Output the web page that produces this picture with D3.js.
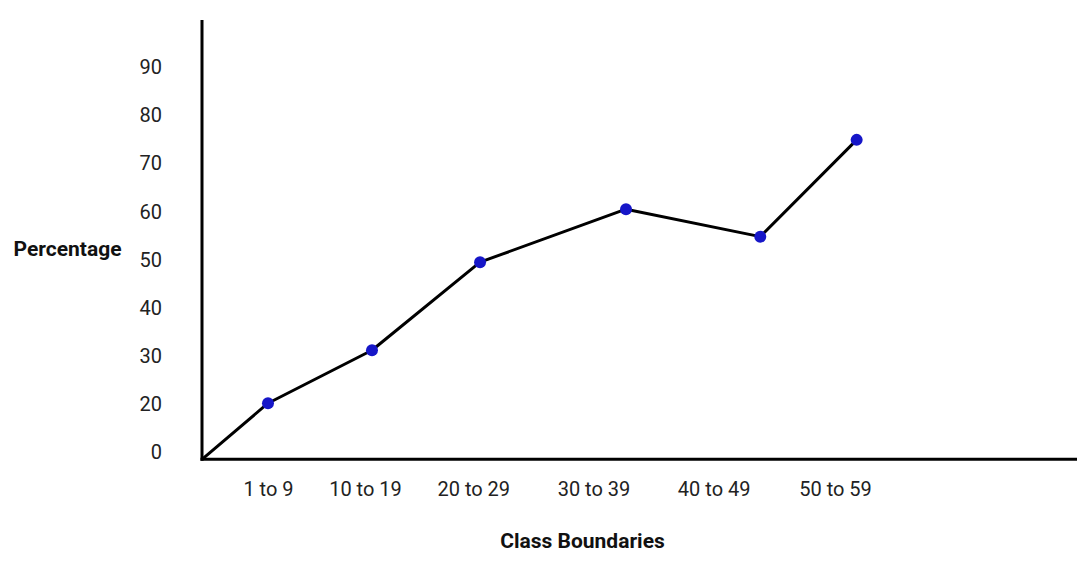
<!DOCTYPE html>
<html>
<head>
<meta charset="utf-8">
<script src="https://cdn.jsdelivr.net/npm/d3@7"></script>
<style>
  html, body { margin: 0; padding: 0; background: #fff; }
  svg { display: block; font-family: Roboto, "Noto Sans", sans-serif; }
</style>
</head>
<body>
<svg id="chart" width="1088" height="564"></svg>
<script>
// ---- data ----
const categories = ["1 to 9", "10 to 19", "20 to 29", "30 to 39", "40 to 49", "50 to 59"];
// where each category label sits along the x axis (in class units, hand-placed in the original)
const labelPos = [1.0, 1.855, 2.81, 3.87, 4.93, 6.0];
// where each plotted point sits along the x axis (class units)
const pointX = [1.0, 1.917, 2.87, 4.157, 5.341, 6.191];
// percentage values
const values = [20.1, 31.1, 49.4, 60.4, 54.7, 74.8];
// y tick slots and their printed labels
const yTickValues = [10, 20, 30, 40, 50, 60, 70, 80, 90];
const yTickLabels = ["0", "20", "30", "40", "50", "60", "70", "80", "90"];
const xTitle = "Class Boundaries";
const yTitle = "Percentage";

// ---- layout ----
const svg = d3.select("#chart");
const axisX0 = 202, axisX1 = 1077, axisY0 = 459.3, axisY1 = 20;

const x = d3.scaleLinear().domain([0.418, 8.134]).range([axisX0, axisX1]);
const y = d3.scaleLinear().domain([8.45, 99.7]).range([axisY0, axisY1]);

// y axis tick labels (no tick marks)
const yAxis = d3.axisLeft(y).tickValues(yTickValues)
  .tickFormat((d, i) => yTickLabels[i]).tickSize(0).tickPadding(0);
const gy = svg.append("g").attr("transform", `translate(${162},0)`).call(yAxis);
gy.select(".domain").remove();
gy.selectAll("text").attr("font-size", 20).attr("fill", "#222")
  .attr("font-family", "Roboto").attr("dy", "0.35em").attr("x", 0);

// x axis category labels (no tick marks)
const xAxis = d3.axisBottom(x).tickValues(labelPos)
  .tickFormat((d, i) => categories[i]).tickSize(0).tickPadding(0);
const gx = svg.append("g").attr("transform", `translate(0,${496})`).call(xAxis);
gx.select(".domain").remove();
gx.selectAll("text").attr("font-size", 20).attr("fill", "#222")
  .attr("font-family", "Roboto").attr("dy", 0).attr("y", 0);

// axis lines
svg.append("line")
  .attr("x1", x(x.domain()[0])).attr("x2", x(x.domain()[0]))
  .attr("y1", y(y.domain()[0]) + 1.5).attr("y2", y(y.domain()[1]))
  .attr("stroke", "#000").attr("stroke-width", 3);
svg.append("line")
  .attr("x1", x(x.domain()[0]) - 1.5).attr("x2", x(x.domain()[1]))
  .attr("y1", y(y.domain()[0])).attr("y2", y(y.domain()[0]))
  .attr("stroke", "#000").attr("stroke-width", 3);

// data line starting at the origin
const pts = [[x.domain()[0], y.domain()[0]]].concat(pointX.map((px, i) => [px, values[i]]));
const line = d3.line().x(d => x(d[0])).y(d => y(d[1]));
svg.append("path").datum(pts)
  .attr("d", line).attr("fill", "none")
  .attr("stroke", "#000").attr("stroke-width", 3).attr("stroke-linejoin", "round");

// points
svg.selectAll("circle.pt").data(values).enter().append("circle")
  .attr("class", "pt")
  .attr("cx", (d, i) => x(pointX[i]))
  .attr("cy", d => y(d))
  .attr("r", 6)
  .attr("fill", "#1616c8");

// titles
svg.append("text").text(yTitle)
  .attr("x", 67.5).attr("y", 256).attr("text-anchor", "middle")
  .attr("font-size", 21).attr("font-weight", "bold").attr("fill", "#111");
svg.append("text").text(xTitle)
  .attr("x", 582.5).attr("y", 547.5).attr("text-anchor", "middle")
  .attr("font-size", 21).attr("font-weight", "bold").attr("fill", "#111");
</script>
</body>
</html>
